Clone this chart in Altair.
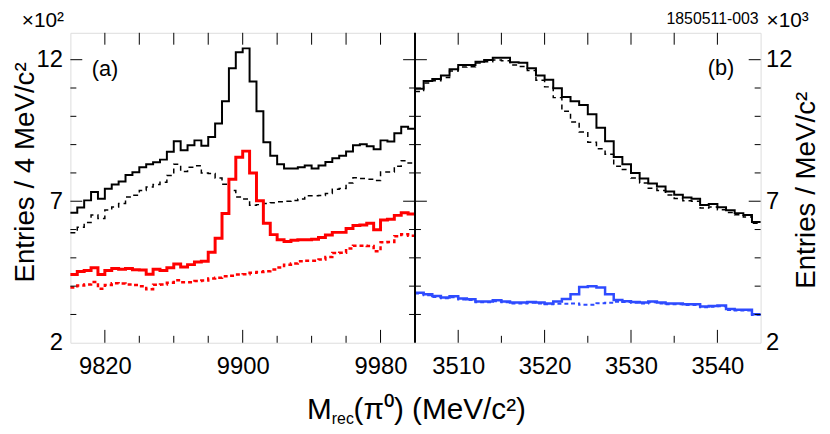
import altair as alt
import pandas as pd

FONT = "Liberation Sans"

# ---------------- data ----------------
# Panel (a): 4 MeV bins from 9800 to 10000 MeV, entries x10^2
a_x0, a_bw = 9800, 4
a_black_solid = [6.59, 6.78, 7.03, 7.33, 7.09, 7.44, 7.59, 7.70, 7.93, 8.02,
                 8.20, 8.31, 8.38, 8.47, 8.75, 9.12, 8.80, 8.98, 9.15, 8.96,
                 9.27, 9.75, 10.53, 11.70, 12.26, 12.40, 11.23, 10.18, 9.08, 8.61,
                 8.31, 8.16, 8.16, 8.20, 8.26, 8.16, 8.26, 8.39, 8.52, 8.61,
                 8.76, 8.98, 9.01, 8.94, 8.84, 9.15, 9.11, 9.40, 9.63, 9.56]
a_black_dotted = [5.89, 6.08, 6.25, 6.51, 6.39, 6.69, 6.80, 6.92, 7.15, 7.21,
                  7.38, 7.50, 7.59, 7.67, 7.91, 8.31, 8.05, 8.20, 8.25, 8.00,
                  7.98, 7.82, 7.60, 7.38, 7.15, 7.08, 6.86, 6.88, 6.92, 6.95,
                  6.98, 7.00, 7.03, 7.08, 7.19, 7.19, 7.20, 7.27, 7.42, 7.45,
                  7.64, 7.83, 7.80, 7.78, 7.73, 8.03, 8.03, 8.24, 8.43, 8.35]
a_red_solid = [4.41, 4.52, 4.55, 4.65, 4.41, 4.55, 4.62, 4.60, 4.62, 4.58,
               4.57, 4.42, 4.60, 4.55, 4.65, 4.78, 4.68, 4.76, 4.85, 4.88,
               5.20, 5.69, 6.57, 7.78, 8.55, 8.77, 8.00, 7.02, 6.22, 5.82,
               5.64, 5.58, 5.62, 5.64, 5.64, 5.66, 5.72, 5.81, 5.90, 5.90,
               6.04, 6.14, 6.16, 6.22, 5.99, 6.34, 6.36, 6.50, 6.59, 6.55]
a_red_dotted = [3.95, 4.02, 4.06, 4.15, 3.91, 4.04, 4.10, 4.09, 4.06, 4.04,
                4.00, 3.89, 4.05, 4.06, 4.12, 4.21, 4.14, 4.14, 4.18, 4.20,
                4.27, 4.30, 4.35, 4.37, 4.41, 4.42, 4.47, 4.50, 4.53, 4.59,
                4.66, 4.76, 4.80, 4.88, 4.90, 4.90, 4.94, 5.03, 5.17, 5.18,
                5.33, 5.43, 5.43, 5.42, 5.23, 5.55, 5.56, 5.76, 5.83, 5.78]

# Panel (b): 1 MeV bins from 3505 to 3545 MeV, entries x10^3
b_x0, b_bw = 3505, 1
b_black_solid = [10.97, 11.25, 11.32, 11.44, 11.66, 11.81, 11.81, 11.93, 11.99, 12.07,
                 12.07, 11.91, 11.89, 11.70, 11.44, 11.29, 10.99, 10.68, 10.53, 10.40,
                 10.07, 9.60, 9.12, 8.56, 8.31, 8.00, 7.80, 7.63, 7.52, 7.34,
                 7.23, 7.13, 7.09, 6.87, 6.90, 6.79, 6.68, 6.58, 6.51, 6.27]
b_black_dotted = [10.88, 11.18, 11.26, 11.37, 11.60, 11.74, 11.75, 11.88, 11.93, 11.99,
                  11.96, 11.81, 11.76, 11.62, 11.27, 11.04, 10.66, 10.18, 9.80, 9.45,
                  9.08, 8.85, 8.66, 8.24, 8.12, 7.82, 7.64, 7.46, 7.38, 7.22,
                  7.10, 7.02, 7.00, 6.76, 6.80, 6.70, 6.60, 6.52, 6.44, 6.22]
b_blue_solid = [3.77, 3.71, 3.65, 3.60, 3.64, 3.56, 3.54, 3.46, 3.46, 3.50,
                3.46, 3.42, 3.42, 3.44, 3.42, 3.39, 3.46, 3.55, 3.71, 3.97,
                4.00, 3.95, 3.71, 3.51, 3.47, 3.44, 3.42, 3.46, 3.42, 3.39,
                3.39, 3.36, 3.36, 3.28, 3.30, 3.32, 3.19, 3.17, 3.17, 3.01]
b_blue_dotted = [3.74, 3.68, 3.62, 3.57, 3.61, 3.53, 3.51, 3.43, 3.43, 3.47,
                 3.43, 3.39, 3.39, 3.41, 3.39, 3.36, 3.38, 3.38, 3.39, 3.34,
                 3.34, 3.40, 3.41, 3.45, 3.44, 3.41, 3.39, 3.43, 3.39, 3.36,
                 3.36, 3.33, 3.33, 3.25, 3.27, 3.29, 3.16, 3.14, 3.14, 2.98]

a_domain = [9800, 10000]
b_domain = [3505, 3545]
y_domain = [2, 12.95]

a_label_ticks = [9820, 9900, 9980]
a_minor_ticks = [9840, 9860, 9880, 9920, 9940, 9960]
b_label_ticks = [3510, 3520, 3530, 3540]
b_minor_ticks = [3515, 3525, 3535]
y_label_ticks = [2, 7, 12]
y_minor_ticks = [3, 4, 5, 6, 8, 9, 10, 11]

# ---------------- layout ----------------
W_A, W_B, H = 348, 349, 313
W = W_A + W_B

xs_a = alt.Scale(domain=a_domain, range=[0, W_A], nice=False, zero=False)
xs_b = alt.Scale(domain=b_domain, range=[W_A, W], nice=False, zero=False)
ys = alt.Scale(domain=y_domain, nice=False, zero=False)

common_axis = dict(title=None, ticks=False, tickSize=0, domain=False, grid=False,
                   labelFontSize=24, labelFont=FONT, labelColor="black",
                   labelOverlap=False, labelFlush=False, format="d")
xa_a = alt.Axis(values=a_label_ticks, orient="bottom", labelPadding=12, **common_axis)
xa_b = alt.Axis(values=b_label_ticks, orient="bottom", labelPadding=12, **common_axis)
ya_a = alt.Axis(values=y_label_ticks, orient="left", labelPadding=8, **common_axis)
ya_b = alt.Axis(values=y_label_ticks, orient="right", labelPadding=5, **common_axis)


def hist_df(values, x0, bw):
    xs = [x0 + i * bw for i in range(len(values) + 1)]
    ys_ = list(values) + [values[-1]]
    return pd.DataFrame({"x": xs, "y": ys_})


def step_layer(values, x0, bw, xs, color, width, dash=None, xaxis=None, yaxis=None):
    kw = dict(interpolate="step-after", color=color, strokeWidth=width)
    if dash:
        kw["strokeDash"] = dash
    return alt.Chart(hist_df(values, x0, bw)).mark_line(**kw).encode(
        x=alt.X("x:Q", scale=xs, axis=xaxis),
        y=alt.Y("y:Q", scale=ys, axis=yaxis),
    )


def tick_layers(xs, left, right, xmajor, xminor):
    out = []
    xall = sorted(xmajor + xminor)
    for vals, y0, y1 in [(xmajor, H, H - 13), (xminor, H, H - 7), (xall, 0, 12)]:
        out.append(alt.Chart(pd.DataFrame({"v": vals})).mark_rule(color="black", strokeWidth=1).encode(
            x=alt.X("v:Q", scale=xs, axis=None), y=alt.value(y0), y2=alt.value(y1)))
    for vals, ln in [(y_label_ticks[1:], 12), (y_minor_ticks, 6)]:
        for x0, x1 in [(left, left + ln), (right, right - ln)]:
            out.append(alt.Chart(pd.DataFrame({"v": vals})).mark_rule(color="black", strokeWidth=1).encode(
                y=alt.Y("v:Q", scale=ys, axis=None), x=alt.value(x0), x2=alt.value(x1)))
    return out


def text_layer(txt, x, y, size, align="left", baseline="alphabetic", angle=0):
    kw = dict(font=FONT, fontSize=size, align=align, baseline=baseline, color="black")
    if angle:
        kw["angle"] = angle
    return alt.Chart(pd.DataFrame({"t": [txt]})).mark_text(**kw).encode(
        x=alt.value(x), y=alt.value(y), text="t:N")


layers = [
    # panel (a)
    step_layer(a_black_dotted, a_x0, a_bw, xs_a, "black", 1.5, [5, 4], xaxis=xa_a, yaxis=ya_a),
    step_layer(a_red_dotted, a_x0, a_bw, xs_a, "#ff0000", 2.5, [4, 3]),
    step_layer(a_black_solid, a_x0, a_bw, xs_a, "black", 2),
    step_layer(a_red_solid, a_x0, a_bw, xs_a, "#ff0000", 3),
    # panel (b)
    step_layer(b_black_dotted, b_x0, b_bw, xs_b, "black", 1.5, [5, 4], xaxis=xa_b, yaxis=ya_b),
    step_layer(b_blue_dotted, b_x0, b_bw, xs_b, "#2e4bff", 2, [4, 3]),
    step_layer(b_black_solid, b_x0, b_bw, xs_b, "black", 2),
    step_layer(b_blue_solid, b_x0, b_bw, xs_b, "#2e4bff", 2.5),
]
layers += tick_layers(xs_a, 0, W_A, a_label_ticks, a_minor_ticks)
layers += tick_layers(xs_b, W_A, W, b_label_ticks, b_minor_ticks)
layers += [
    # divider between the two panels
    alt.Chart(pd.DataFrame({"t": [0]})).mark_rule(color="black", strokeWidth=2).encode(
        x=alt.value(W_A), y=alt.value(0), y2=alt.value(H)),
    text_layer("(a)", 35, 37, 22, align="center", baseline="middle"),
    text_layer("×10²", -49, -6, 21),
    text_layer("Entries / 4 MeV/c²", -37, 141, 28, align="center", angle=270),
    text_layer("M", 239, 390, 30),
    text_layer("rec", 264, 395, 16),
    text_layer("(π⁰) (MeV/c²)", 286, 390, 30),
    text_layer("(b)", W_A + 309, 36, 22, align="center", baseline="middle"),
    text_layer("×10³", W_A + 355, -6, 21),
    text_layer("1850511-003", W_A + 347, -9, 16, align="right"),
    text_layer("Entries / MeV/c²", W_A + 404, 159, 28, align="center", angle=270),
]

chart = alt.layer(*layers).resolve_scale(x="independent", y="independent").properties(
    width=W, height=H,
    autosize=alt.AutoSizeParams(type="none"),
    padding={"left": 63, "top": 23, "right": 62, "bottom": 82},
    background="white",
).configure_view(stroke="black", strokeWidth=2).configure(font=FONT)

chart.save("out.html", embed_options={"renderer": "svg", "actions": False})
